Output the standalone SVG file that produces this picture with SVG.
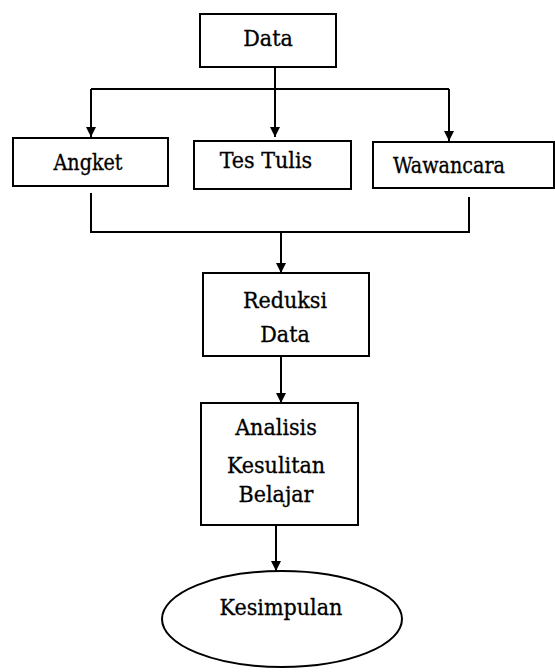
<svg xmlns="http://www.w3.org/2000/svg" width="555" height="672" viewBox="0 0 555 672">
<style>
.box{fill:#fff;stroke:#000;stroke-width:2}
.ln{fill:none;stroke:#000;stroke-width:2}
text{font-family:"DejaVu Serif Condensed","DejaVu Serif",serif;font-size:23px;fill:#000;stroke:#000;stroke-width:0.3;text-anchor:middle}
</style>
<defs>
<marker id="ah" viewBox="0 0 10 10" refX="10" refY="5" markerWidth="5" markerHeight="5" orient="auto" markerUnits="strokeWidth">
<path d="M0,0 L10,5 L0,10 z" fill="#000"/>
</marker>
</defs>
<g id="connectors">
<path class="ln" d="M275,67 V137" marker-end="url(#ah)"/>
<path class="ln" d="M91,89 H449"/>
<path class="ln" d="M91,89 V137" marker-end="url(#ah)"/>
<path class="ln" d="M449,89 V141" marker-end="url(#ah)"/>
<path class="ln" d="M91,193 V232 H469 V197"/>
<path class="ln" d="M281,232 V273" marker-end="url(#ah)"/>
<path class="ln" d="M281,356 V403" marker-end="url(#ah)"/>
<path class="ln" d="M276,525 V571" marker-end="url(#ah)"/>
</g>
<g id="data"><rect class="box" x="200" y="14" width="136" height="53"/><text x="268" y="46">Data</text></g>
<g id="angket"><rect class="box" x="13" y="138" width="155" height="48"/><text x="88" y="170" textLength="69" lengthAdjust="spacingAndGlyphs">Angket</text></g>
<g id="tes-tulis"><rect class="box" x="194" y="141" width="157" height="48"/><text x="266" y="168">Tes Tulis</text></g>
<g id="wawancara"><rect class="box" x="373" y="142" width="181" height="46"/><text x="449" y="173" textLength="112" lengthAdjust="spacingAndGlyphs">Wawancara</text></g>
<g id="reduksi"><rect class="box" x="203" y="273" width="166" height="83"/><text x="285" y="308">Reduksi</text><text x="285" y="342">Data</text></g>
<g id="analisis"><rect class="box" x="201" y="403" width="157" height="122"/><text x="276" y="435">Analisis</text><text x="276" y="473">Kesulitan</text><text x="276" y="502">Belajar</text></g>
<g id="kesimpulan"><ellipse class="box" cx="282" cy="619" rx="120" ry="48"/><text x="281" y="615">Kesimpulan</text></g>
</svg>
